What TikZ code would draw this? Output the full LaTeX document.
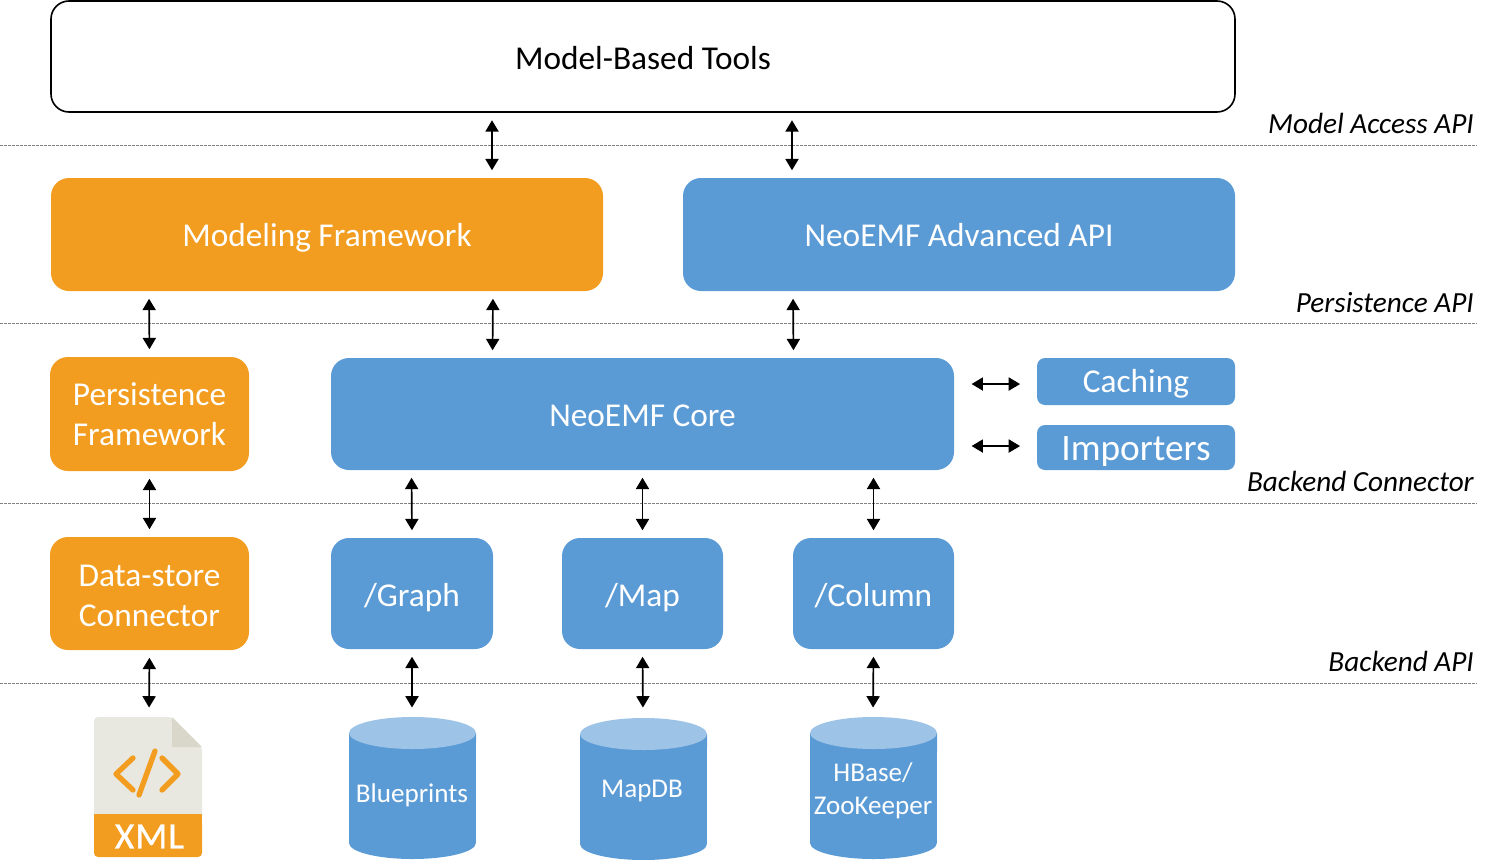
\documentclass[tikz,border=0pt]{standalone}
\usepackage{fontspec}
\setmainfont{Carlito}
\newfontfamily\xmlfont[FakeBold=1,LetterSpace=3]{Carlito}
\usetikzlibrary{arrows.meta,calc}
\definecolor{orangeB}{HTML}{F29D1F}
\definecolor{blueB}{HTML}{5B9BD5}
\definecolor{blueL}{HTML}{9DC3E6}
\definecolor{paperC}{HTML}{E8E8E0}
\definecolor{foldC}{HTML}{D8D7CA}
\newcommand{\fsz}[2]{\fontsize{#1pt}{#2pt}\selectfont}
\newcommand{\topstrut}[1]{\rule{0pt}{#1}}
\newcommand{\botstrut}[1]{\rule[-#1]{0pt}{#1}}
\tikzset{
  x=0.75pt,y=-0.75pt,
  block/.style={rectangle,inner sep=0pt,align=center,text=white,rounded corners=13.5pt},
  orangeblock/.style={block,fill=orangeB},
  blueblock/.style={block,fill=blueB},
  smallblock/.style={blueblock,rounded corners=6pt},
  toolsblock/.style={block,draw=black,line width=1.2pt,fill=white,text=black},
  oneline/.style={text height=#1+12pt,text depth=12pt-#1},
  conn/.style={{Triangle[length=8.5pt,width=9.8pt]}-{Triangle[length=8.5pt,width=9.8pt]},line width=1.25pt,black,shorten <=5.6pt,shorten >=5.6pt},
  sideconn/.style={conn,shorten <=13pt,shorten >=12.5pt},
  sep/.style={gray,dash pattern=on 2pt off 1pt,line width=0.5pt},
  apilabel/.style={anchor=east,inner sep=0pt,font=\itshape\fsz{21.9}{24}},
  cyltext/.style={rectangle,inner sep=0pt,align=center,text=white,font=\fsz{20.3}{24.5}},
  bigfont/.style={font=\fsz{25}{30}},
}
\begin{document}
\begin{tikzpicture}
\useasboundingbox (0,0) rectangle (1492,860);
% layer separators
\coordinate (s1l) at (0,145); \coordinate (s1r) at (1477,145);
\coordinate (s2l) at (0,323); \coordinate (s2r) at (1477,323);
\coordinate (s3l) at (0,503); \coordinate (s3r) at (1477,503);
\coordinate (s4l) at (0,683); \coordinate (s4r) at (1477,683);
\draw[sep] (s1l) -- (s1r);
\draw[sep] (s2l) -- (s2r);
\draw[sep] (s3l) -- (s3r);
\draw[sep] (s4l) -- (s4r);
% labels
\node[apilabel] (l1) at (1474,123) {Model Access API};
\node[apilabel] (l2) at (1474,302.5) {Persistence API};
\node[apilabel] (l3) at (1474,481) {Backend Connector};
\node[apilabel] (l4) at (1474,661) {Backend API};
% blocks
\node[toolsblock,minimum width=888pt,minimum height=83.25pt,bigfont,oneline=9.7pt] (mbt) at (643,56.5) {Model-Based Tools};
\node[orangeblock,minimum width=414pt,minimum height=84.75pt,bigfont,oneline=9.1pt] (mf) at (327,234.5) {Modeling Framework};
\node[blueblock,minimum width=414pt,minimum height=84.75pt,bigfont,oneline=9.1pt] (adv) at (959,234.5) {NeoEMF Advanced API};
\node[orangeblock,minimum width=149.25pt,minimum height=85.5pt,bigfont] (pf) at (149.5,414) {\topstrut{20pt}Persistence\\Framework\botstrut{2.2pt}};
\node[blueblock,minimum width=467.25pt,minimum height=84pt,bigfont,oneline=9.2pt] (core) at (642.5,414) {NeoEMF Core};
\node[smallblock,minimum width=148.5pt,minimum height=35.25pt,bigfont,oneline=8.4pt] (cache) at (1136,381.5) {Caching};
\node[smallblock,minimum width=148.5pt,minimum height=33.75pt,font=\fsz{28}{30},oneline=9.4pt] (imp) at (1136,447.5) {Importers};
\node[orangeblock,minimum width=149.25pt,minimum height=84.75pt,bigfont] (ds) at (149.5,593.5) {\topstrut{22pt}Data-store\\Connector\botstrut{2.2pt}};
\node[blueblock,minimum width=121.5pt,minimum height=83.25pt,bigfont,oneline=9.7pt] (graph) at (412,593.5) {/Graph};
\node[blueblock,minimum width=120.75pt,minimum height=83.25pt,bigfont,oneline=9.7pt] (map) at (642.5,593.5) {/Map};
\node[blueblock,minimum width=120.75pt,minimum height=83.25pt,bigfont,oneline=9.7pt] (col) at (873.5,593.5) {/Column};
% cylinders
\fill[blueB] (349,733) -- (349,843) arc[start angle=180,end angle=360,x radius=47.6pt,y radius=12pt] -- (476,733) -- cycle;
\fill[blueL] (412.5,733) ellipse[x radius=47.6pt,y radius=12pt];
\coordinate (bptop) at (412,715);
\node[cyltext] (bp) at (412,795) {Blueprints};
\fill[blueB] (580,734) -- (580,844) arc[start angle=180,end angle=360,x radius=47.6pt,y radius=12pt] -- (707,734) -- cycle;
\fill[blueL] (643.5,734) ellipse[x radius=47.6pt,y radius=12pt];
\coordinate (mapdbtop) at (643,715);
\node[cyltext] (mapdb) at (642,791) {MapDB};
\fill[blueB] (810,733) -- (810,843) arc[start angle=180,end angle=360,x radius=47.6pt,y radius=12pt] -- (937,733) -- cycle;
\fill[blueL] (873.5,733) ellipse[x radius=47.6pt,y radius=12pt];
\coordinate (hbtop) at (873,715);
\node[cyltext] (hb) at (873,791) {HBase/\\ZooKeeper};
% XML icon
\fill[paperC,rounded corners=3pt] (94,825) -- (94,717) -- (172,717) -- (202,747) -- (202,825) -- cycle;
\fill[foldC] (172,717) -- (202,747) -- (172,747) -- cycle;
\fill[orangeB,rounded corners=3pt] (94,820) -- (94,857) -- (202,857) -- (202,820) -- cycle;
\fill[orangeB] (94,814) rectangle (202,824);
\draw[orangeB,line width=4pt,line cap=round,line join=round] (133,758) -- (116,774) -- (133,790);
\draw[orangeB,line width=4pt,line cap=round,line join=round] (162,758) -- (178,774) -- (162,790);
\draw[orangeB,line width=4pt,line cap=round] (155,751) -- (139,795);
\coordinate (xmltop) at (149,715);
\node[inner sep=0pt,text=white,font=\xmlfont\fsz{28}{30}] (xml) at (149.5,836.5) {XML};
% connectors
\draw[conn] ([xshift=-113.25pt]mbt.south) -- ([xshift=123.75pt]mf.north);
\draw[conn] ([xshift=111.75pt]mbt.south) -- ([xshift=-125.25pt]adv.north);
\draw[conn] ([xshift=-133.5pt]mf.south) -- (pf.north);
\draw[conn] ([xshift=124.5pt]mf.south) -- ([xshift=-112.5pt]core.north);
\draw[conn] ([xshift=-124.5pt]adv.south) -- ([xshift=113.25pt]core.north);
\draw[conn] (pf.south) -- (ds.north);
\draw[conn] ([xshift=-173.25pt]core.south) -- (graph.north);
\draw[conn] (core.south) -- (map.north);
\draw[conn] ([xshift=173.25pt]core.south) -- (col.north);
\draw[sideconn] ([yshift=-1.9pt]core.east |- cache.west) -- ([yshift=-1.9pt]cache.west);
\draw[sideconn] ([yshift=1.1pt]core.east |- imp.west) -- ([yshift=1.1pt]imp.west);
\draw[conn] (ds.south) -- (xmltop);
\draw[conn] (graph.south) -- (bptop);
\draw[conn] (map.south) -- (mapdbtop);
\draw[conn] (col.south) -- (hbtop);
\end{tikzpicture}
\end{document}
